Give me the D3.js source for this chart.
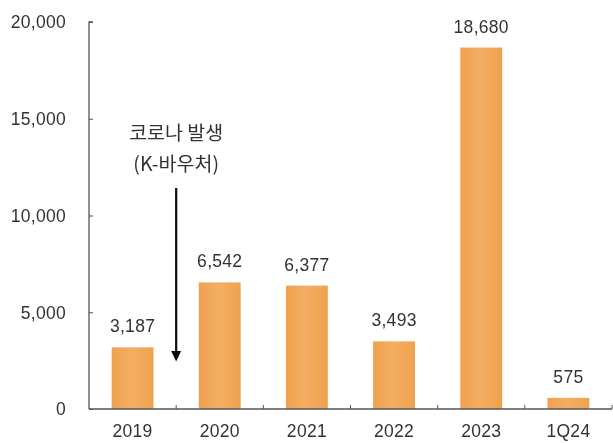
<!DOCTYPE html>
<html>
<head>
<meta charset="utf-8">
<script src="https://cdn.jsdelivr.net/npm/d3@7"></script>
<style>
  html, body { margin: 0; padding: 0; background: #fff; }
  svg { display: block; }
  text { font-family: "Liberation Sans", Arial, "Noto Sans CJK KR", sans-serif; fill: #333; }
</style>
</head>
<body>
<svg id="chart" width="613" height="443"></svg>
<script>
const categories = ["2019", "2020", "2021", "2022", "2023", "1Q24"];
const values = [3187, 6542, 6377, 3493, 18680, 575];
const yTicks = [0, 5000, 10000, 15000, 20000];
const noteLines = ["코로나 발생", "(K-바우처)"];

const svg = d3.select("#chart");
const margin = { left: 89, right: 1, top: 22, bottom: 34 };
const W = 613, H = 443;
const fs = 17.5;

const x = d3.scaleBand().domain(categories)
  .range([margin.left, W - margin.right]).paddingInner(0.52).paddingOuter(0.26);
const y = d3.scaleLinear().domain([0, 20000]).range([H - margin.bottom, margin.top]);

const defs = svg.append("defs");
const grad = defs.append("linearGradient").attr("id", "barFill")
  .attr("x1", "0").attr("x2", "1").attr("y1", "0").attr("y2", "0");
grad.append("stop").attr("offset", "0").attr("stop-color", "#EFA04E");
grad.append("stop").attr("offset", "0.45").attr("stop-color", "#F4AE62");
grad.append("stop").attr("offset", "1").attr("stop-color", "#EFA24F");
defs.append("filter").attr("id", "soft").append("feGaussianBlur").attr("stdDeviation", 0.35);

const g = svg.append("g").attr("filter", "url(#soft)");

// bars
g.selectAll("rect.bar").data(values).join("rect")
  .attr("class", "bar")
  .attr("x", (d, i) => x(categories[i]))
  .attr("width", x.bandwidth())
  .attr("y", d => y(d))
  .attr("height", d => y(0) - y(d))
  .attr("fill", "url(#barFill)");

// value labels
g.selectAll("text.val").data(values).join("text")
  .attr("class", "val")
  .attr("x", (d, i) => x(categories[i]) + x.bandwidth() / 2)
  .attr("y", d => y(d) - 15)
  .attr("text-anchor", "middle")
  .attr("font-size", fs)
  .attr("letter-spacing", 0.3)
  .text(d => d3.format(",")(d));

// y axis
const yAxis = d3.axisRight(y).tickValues(yTicks).tickSize(4).tickFormat("");
const ya = g.append("g").attr("transform", `translate(${margin.left},0)`).call(yAxis);
ya.select(".domain").attr("stroke", "#555").attr("stroke-width", 1.3).attr("d", `M4,${y(20000)}H0V${y(0)}`);
ya.selectAll(".tick line").attr("stroke", "#555");
g.selectAll("text.ytick").data(yTicks).join("text")
  .attr("class", "ytick")
  .attr("x", 66).attr("y", d => y(d))
  .attr("dy", "0.36em")
  .attr("text-anchor", "end")
  .attr("font-size", fs)
  .attr("letter-spacing", 0.3)
  .text(d => d3.format(",")(d));

// x axis
const xa = g.append("g").attr("transform", `translate(0,${y(0)})`);
xa.append("line").attr("x1", margin.left).attr("x2", W - margin.right)
  .attr("stroke", "#555").attr("stroke-width", 1.3);
const step = x.step();
const bounds = categories.map((c, i) => x(c) + x.bandwidth() / 2 + step / 2);
xa.selectAll("line.tk").data(bounds).join("line")
  .attr("class", "tk")
  .attr("x1", d => d).attr("x2", d => d).attr("y1", 0).attr("y2", -4)
  .attr("stroke", "#555");
xa.selectAll("text").data(categories).join("text")
  .attr("x", d => x(d) + x.bandwidth() / 2)
  .attr("y", 28)
  .attr("text-anchor", "middle")
  .attr("font-size", fs)
  .attr("letter-spacing", 0.3)
  .text(d => d);

// annotation with arrow
const ax = (x("2019") + x.bandwidth() / 2 + x("2020") + x.bandwidth() / 2) / 2;
g.selectAll("text.note").data(noteLines).join("text")
  .attr("class", "note")
  .attr("x", ax)
  .attr("y", (d, i) => 140 + i * 31)
  .attr("text-anchor", "middle")
  .attr("font-size", 19.5)
  .style("font-family", "'Noto Sans CJK KR', sans-serif")
  .text(d => d);
g.append("line").attr("x1", ax).attr("x2", ax).attr("y1", 188).attr("y2", y(3000))
  .attr("stroke", "#111").attr("stroke-width", 2.2);
g.append("path")
  .attr("d", `M${ax - 5},${y(3000)}L${ax + 5},${y(3000)}L${ax},${y(2450)}Z`)
  .attr("fill", "#111");
</script>
</body>
</html>
